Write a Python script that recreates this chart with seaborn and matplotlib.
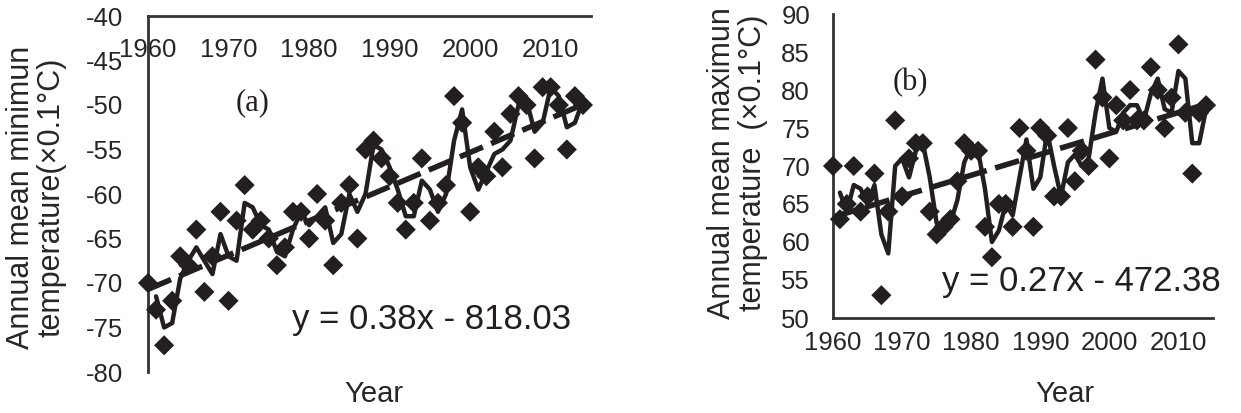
"""
Annual mean min / max temperature, 1960-2014
"""

import matplotlib
matplotlib.use('Agg')
import pandas as pd
import matplotlib.pyplot as plt
import seaborn as sns

# data (x0.1 degC)
years = list(range(1960, 2015))
tmin = [-70, -73, -77, -72, -67, -68, -64, -71, -67, -62,
        -72, -63, -59, -64, -63, -65, -68, -66, -62, -62,
        -65, -60, -63, -68, -61, -59, -65, -55, -54, -56,
        -58, -61, -64, -61, -56, -63, -61, -59, -49, -52,
        -62, -57, -58, -53, -57, -51, -49, -50, -56, -48,
        -48, -50, -55, -49, -50]
tmax = [70, 63, 65, 70, 64, 66, 69, 53, 64, 76,
        66, 71, 73, 73, 64, 61, 62, 63, 68, 73,
        72, 72, 62, 58, 65, 65, 62, 75, 72, 62,
        75, 74, 66, 66, 75, 68, 72, 70, 84, 79,
        71, 78, 76, 80, 76, 76, 83, 80, 75, 79,
        86, 77, 69, 77, 78]
year_ticks = [1960, 1970, 1980, 1990, 2000, 2010]
eq_a = 'y = 0.38x - 818.03'
eq_b = 'y = 0.27x - 472.38'

df = pd.DataFrame({'Year': years, 'Tmin': tmin, 'Tmax': tmax})
# 2-year moving average (Excel style trendline)
df['Tmin_ma'] = df['Tmin'].rolling(2).mean()
df['Tmax_ma'] = df['Tmax'].rolling(2).mean()

# setup
sns.set_style('white')
plt.rcParams['font.family'] = ['Liberation Sans', 'DejaVu Sans']
plt.rcParams['axes.unicode_minus'] = False
ink = '#231f20'
W, H = 1241, 413

fig = plt.figure(figsize=(W / 100, H / 100), dpi=100)
ax1 = fig.add_axes([148 / W, 1 - 372 / H, 443 / W, 356 / H])
ax2 = fig.add_axes([833 / W, 1 - 318 / H, 380 / W, 304 / H])


def draw(ax, col):
    sns.regplot(data=df, x='Year', y=col, ax=ax, scatter=False, ci=None,
                color=ink, line_kws=dict(lw=4, dashes=(4.5, 1.6)))
    sns.lineplot(data=df, x='Year', y=col + '_ma', ax=ax, color=ink, lw=3.2)
    sns.scatterplot(data=df, x='Year', y=col, ax=ax, marker='D', s=105,
                    color=ink, edgecolor='none', clip_on=False, zorder=3)
    ax.set_xlim(1960, 2015)
    ax.set_xticks(year_ticks)
    for s in ['left', 'bottom']:
        ax.spines[s].set_color('#333333')
        ax.spines[s].set_linewidth(2)
    for s in ['top', 'right']:
        ax.spines[s].set_visible(False)


# (a) minimum
draw(ax1, 'Tmin')
ax1.set_ylim(-80, -40)
ax1.set_yticks(range(-80, -35, 5))
ax1.spines['bottom'].set_position(('axes', 1.0))
ax1.tick_params(axis='x', direction='out', length=6.5, width=1.6,
                color='#333333', labelsize=18.5, pad=9)
ax1.tick_params(axis='y', direction='in', length=6, width=1.6,
                color='#333333', labelsize=18.5, pad=18)
ax1.set_xlabel('Year', fontsize=21)
ax1.xaxis.set_label_coords(0.51, -0.022)
ax1.set_ylabel('Annual mean minimun\ntemperature(×0.1°C)', fontsize=22,
               linespacing=1.05)
ax1.yaxis.set_label_coords(-0.183, 0.49)

# (b) maximum
draw(ax2, 'Tmax')
ax2.set_ylim(50, 90)
ax2.set_yticks(range(50, 95, 5))
ax2.tick_params(axis='x', direction='in', length=6, width=1.6,
                color='#333333', labelsize=18.5, pad=9)
ax2.tick_params(axis='y', direction='in', length=6.5, width=1.6,
                color='#333333', labelsize=18.5, pad=16.5)
ax2.set_xlabel('Year', fontsize=21)
ax2.xaxis.set_label_coords(0.61, -0.205)
ax2.set_ylabel('Annual mean maximun\ntemperature  (×0.1°C)', fontsize=22,
               linespacing=1.05)
ax2.yaxis.set_label_coords(-0.171, 0.51)

# annotations
fig.text(253 / W, 1 - 103 / H, '(a)', family=['Liberation Serif'],
         fontsize=22, ha='center', va='center', color=ink)
fig.text(910 / W, 1 - 83 / H, '(b)', family=['Liberation Serif'],
         fontsize=22, ha='center', va='center', color=ink)
fig.text(432 / W, 1 - 320 / H, eq_a, fontsize=25, ha='center', va='center',
         color=ink)
fig.text(1081 / W, 1 - 282 / H, eq_b, fontsize=25, ha='center', va='center',
         color=ink)

plt.savefig('out.png', dpi=100)
plt.close()
